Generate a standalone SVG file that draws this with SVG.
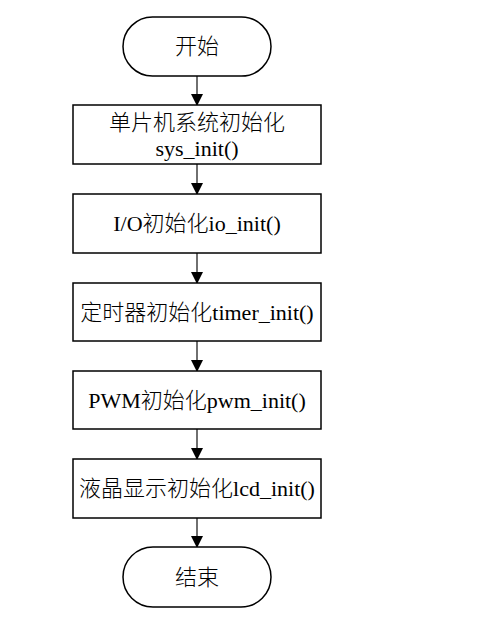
<svg xmlns="http://www.w3.org/2000/svg" width="488" height="631" viewBox="0 0 488 631">
<style>
.node{fill:#fff;stroke:#000;stroke-width:1.5}
.t{font-family:"Liberation Serif","Noto Sans CJK SC",serif;font-size:22px;font-weight:300;fill:#000;text-anchor:middle;dominant-baseline:central}
.c{stroke:#222;stroke-width:1.3;fill:none;marker-end:url(#ah)}
</style>
<defs>
<marker id="ah" markerUnits="userSpaceOnUse" markerWidth="12" markerHeight="12" refX="11" refY="6" orient="auto">
<path d="M0,0 L12,6 L0,12 Z" fill="#000"/>
</marker>
</defs>
<rect width="488" height="631" fill="#fff"/>
<g id="connectors">
<line class="c" x1="197" y1="76" x2="197" y2="105"/>
<line class="c" x1="197" y1="164" x2="197" y2="194"/>
<line class="c" x1="197" y1="253" x2="197" y2="283"/>
<line class="c" x1="197" y1="341" x2="197" y2="371"/>
<line class="c" x1="197" y1="429" x2="197" y2="459"/>
<line class="c" x1="197" y1="518" x2="197" y2="547"/>
</g>
<g id="start">
<rect class="node" x="123" y="17" width="148" height="59" rx="29.5"/>
<text class="t" x="197" y="46">开始</text>
</g>
<g id="sys_init">
<rect class="node" x="73" y="105" width="248" height="59"/>
<text class="t" x="197" y="122">单片机系统初始化</text>
<text class="t" x="197" y="148">sys_init()</text>
</g>
<g id="io_init">
<rect class="node" x="73" y="194" width="248" height="59"/>
<text class="t" x="197" y="223">I/O初始化io_init()</text>
</g>
<g id="timer_init">
<rect class="node" x="73" y="283" width="248" height="58"/>
<text class="t" x="197" y="312">定时器初始化timer_init()</text>
</g>
<g id="pwm_init">
<rect class="node" x="73" y="371" width="248" height="58"/>
<text class="t" x="197" y="400">PWM初始化pwm_init()</text>
</g>
<g id="lcd_init">
<rect class="node" x="73" y="459" width="248" height="59"/>
<text class="t" x="197" y="488">液晶显示初始化lcd_init()</text>
</g>
<g id="end">
<rect class="node" x="123" y="547" width="148" height="60" rx="30"/>
<text class="t" x="197" y="577">结束</text>
</g>
</svg>
